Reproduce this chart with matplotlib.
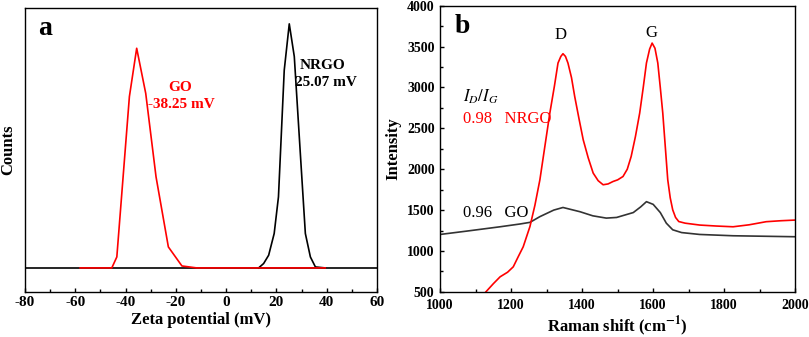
import matplotlib
matplotlib.use("Agg")
import matplotlib.pyplot as plt
from matplotlib.ticker import MultipleLocator

plt.rcParams['font.family'] = ['Liberation Serif', 'DejaVu Serif']
plt.rcParams['mathtext.fontset'] = 'stix'
plt.rcParams['axes.unicode_minus'] = False

# --- Panel a: zeta potential distributions ---
go_zeta_x = [-58.1, -45.5, -43.5, -38.5, -35.6, -32.0, -27.9, -23.0, -17.6, -11.7, 0, 20, 39.4]
go_zeta_y = [0, 0, 4.5, 70.2, 90.0, 71.5, 37.3, 8.6, 0.8, 0, 0, 0, 0]
nrgo_zeta_x = [12.9, 14.9, 16.9, 19.1, 20.8, 23.1, 25.1, 27.1, 29.5, 31.5, 33.5, 35.5, 39.4]
nrgo_zeta_y = [0, 1.8, 5.2, 14.1, 29.1, 81.0, 100.0, 86.6, 46.9, 14.1, 4.5, 0.4, 0]

# --- Panel b: Raman spectra ---
nrgo_raman_x = [1110, 1129, 1150, 1169, 1190, 1206, 1220, 1234, 1253, 1267, 1281, 1295, 1309,
                1322, 1332, 1340, 1346, 1353, 1360, 1370, 1379, 1391, 1403, 1417, 1431, 1445,
                1459, 1473, 1487, 1500, 1515, 1527, 1538, 1550, 1562, 1572, 1581, 1590, 1597,
                1605, 1613, 1620, 1627, 1634, 1641, 1648, 1655, 1663, 1672, 1690, 1731, 1778,
                1825, 1870, 1918, 1960, 2000]
nrgo_raman_y = [380, 500, 600, 684, 740, 806, 930, 1051, 1299, 1560, 1871, 2280, 2687,
                3020, 3299, 3380, 3413, 3380, 3299, 3120, 2890, 2620, 2360, 2140, 1953, 1860,
                1810, 1820, 1850, 1870, 1911, 2000, 2156, 2400, 2687, 3000, 3299, 3470, 3543,
                3480, 3299, 3000, 2687, 2280, 1871, 1650, 1503, 1410, 1360, 1340, 1317, 1305,
                1296, 1320, 1358, 1370, 1378]
go_raman_x = [1000, 1075, 1169, 1225, 1253, 1281, 1320, 1346, 1394, 1430, 1468, 1497, 1544,
              1565, 1581, 1600, 1620, 1637, 1655, 1680, 1731, 1825, 2000]
go_raman_y = [1202, 1243, 1296, 1330, 1350, 1420, 1500, 1532, 1480, 1430, 1402, 1410, 1470,
              1540, 1603, 1570, 1470, 1340, 1259, 1225, 1202, 1186, 1174]

fig = plt.figure(figsize=(8.09, 3.37), dpi=100)
ax1 = fig.add_axes([0.031, 0.134, 0.435, 0.843])
ax2 = fig.add_axes([0.544, 0.134, 0.439, 0.849])

# panel a
ax1.axhline(0, color='black', lw=1.2)
ax1.plot(nrgo_zeta_x, nrgo_zeta_y, color='black', lw=1.2)
ax1.plot(go_zeta_x, go_zeta_y, color='red', lw=1.2)
ax1.set_xlim(-80, 60)
ax1.set_ylim(-9.8, 106.6)
ax1.set_yticks([])
ax1.xaxis.set_major_locator(MultipleLocator(20))
ax1.xaxis.set_minor_locator(MultipleLocator(10))
ax1.tick_params(axis='x', direction='in', length=3, width=1, labelsize=11, pad=3)
ax1.tick_params(axis='x', which='minor', direction='in', length=2, width=1)
for lab in ax1.get_xticklabels():
    lab.set_fontweight('bold')
ax1.set_xlabel('Zeta potential (mV)', fontsize=12, fontweight='bold', labelpad=2)
ax1.set_ylabel('Counts', fontsize=12, fontweight='bold', labelpad=6)
ax1.text(-75, 98, 'a', fontsize=20, fontweight='bold', va='center', ha='left')
ax1.text(-18.3, 74, 'GO', color='red', fontsize=11, fontweight='bold', ha='center', va='center')
ax1.text(-18.0, 67, '-38.25 mV', color='red', fontsize=11, fontweight='bold', ha='center', va='center')
ax1.text(38.5, 83, 'NRGO', color='black', fontsize=11, fontweight='bold', ha='center', va='center')
ax1.text(39.8, 76, '25.07 mV', color='black', fontsize=11, fontweight='bold', ha='center', va='center')

# panel b
ax2.plot(go_raman_x, go_raman_y, color='#333333', lw=1.2)
ax2.plot(nrgo_raman_x, nrgo_raman_y, color='red', lw=1.2)
ax2.set_xlim(1000, 2000)
ax2.set_ylim(500, 4000)
ax2.xaxis.set_major_locator(MultipleLocator(200))
ax2.xaxis.set_minor_locator(MultipleLocator(100))
ax2.yaxis.set_major_locator(MultipleLocator(500))
ax2.yaxis.set_minor_locator(MultipleLocator(250))
ax2.tick_params(direction='in', length=3, width=1, labelsize=10)
ax2.tick_params(axis='x', pad=5)
ax2.tick_params(axis='y', pad=4)
ax2.tick_params(which='minor', direction='in', length=2, width=1)
for lab in ax2.get_xticklabels() + ax2.get_yticklabels():
    lab.set_fontweight('bold')
ax2.set_xlabel('Raman shift (cm$^{\\mathbf{-1}}$)', fontsize=12, fontweight='bold', labelpad=2)
ax2.set_ylabel('Intensity', fontsize=12, fontweight='bold', labelpad=4)
ax2.text(1040, 3740, 'b', fontsize=20, fontweight='bold', va='center', ha='left')
ax2.text(1340, 3640, 'D', fontsize=12, ha='center', va='center')
ax2.text(1595, 3670, 'G', fontsize=12, ha='center', va='center')
ax2.text(1065, 2890, '$I_D/I_G$', fontsize=12, ha='left', va='center')
ax2.text(1065, 2620, '0.98   NRGO', color='red', fontsize=12, ha='left', va='center')
ax2.text(1065, 1460, '0.96   GO', color='black', fontsize=12, ha='left', va='center')

for ax in (ax1, ax2):
    for s in ax.spines.values():
        s.set_linewidth(1.0)

fig.savefig('out.png', dpi=100)
